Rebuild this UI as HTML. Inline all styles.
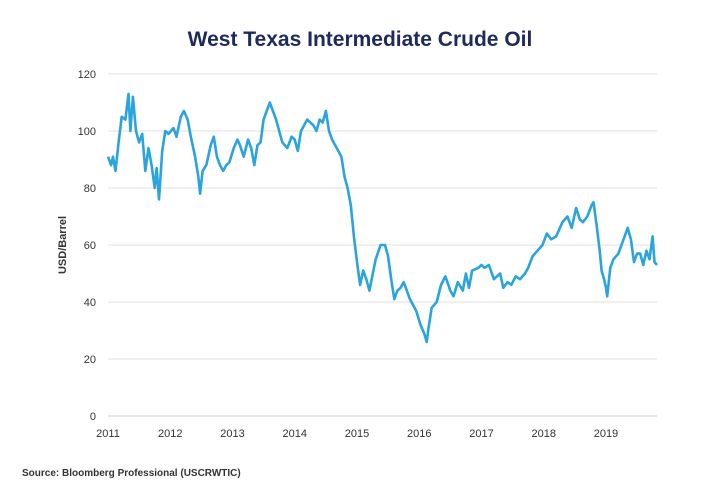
<!DOCTYPE html>
<html><head><meta charset="utf-8"><style>
body{margin:0;background:#fff;font-family:"Liberation Sans",sans-serif;}
svg{display:block}
</style></head><body>
<svg id="chart" width="720" height="500">
<text x="360" y="46" text-anchor="middle" font-size="21" font-weight="bold" fill="#1d2a5b">West Texas Intermediate Crude Oil</text>
<text transform="translate(66,245) rotate(-90)" text-anchor="middle" font-size="11" font-weight="bold" fill="#333">USD/Barrel</text>
<text x="22" y="476" font-size="10" font-weight="bold" fill="#333">Source: Bloomberg Professional (USCRWTIC)</text>
<g id="grid"></g><g id="xt"></g><g id="series"></g>
</svg>
<script>
const yTicks=[0,20,40,60,80,100,120];
const xYears=[2011,2012,2013,2014,2015,2016,2017,2018,2019];
const dates=[2011.0,2011.05,2011.08,2011.12,2011.17,2011.22,2011.28,2011.33,2011.36,2011.4,2011.45,2011.5,2011.55,2011.6,2011.65,2011.7,2011.75,2011.78,2011.82,2011.87,2011.92,2011.97,2012.05,2012.1,2012.17,2012.22,2012.28,2012.33,2012.4,2012.45,2012.48,2012.52,2012.58,2012.65,2012.7,2012.75,2012.8,2012.85,2012.9,2012.95,2013.02,2013.08,2013.12,2013.18,2013.25,2013.3,2013.35,2013.4,2013.45,2013.5,2013.55,2013.6,2013.65,2013.7,2013.8,2013.88,2013.95,2014.0,2014.05,2014.1,2014.2,2014.3,2014.35,2014.4,2014.45,2014.5,2014.55,2014.6,2014.7,2014.75,2014.8,2014.85,2014.9,2014.95,2015.0,2015.05,2015.1,2015.15,2015.2,2015.3,2015.38,2015.45,2015.5,2015.55,2015.6,2015.65,2015.7,2015.75,2015.8,2015.85,2015.9,2015.95,2016.02,2016.08,2016.12,2016.15,2016.2,2016.28,2016.35,2016.42,2016.5,2016.55,2016.62,2016.7,2016.75,2016.8,2016.85,2016.95,2017.0,2017.05,2017.12,2017.2,2017.3,2017.35,2017.42,2017.48,2017.55,2017.62,2017.7,2017.75,2017.82,2017.9,2017.98,2018.05,2018.12,2018.2,2018.3,2018.38,2018.45,2018.52,2018.58,2018.63,2018.7,2018.77,2018.8,2018.85,2018.9,2018.93,2018.97,2019.0,2019.02,2019.07,2019.12,2019.2,2019.3,2019.35,2019.4,2019.45,2019.5,2019.55,2019.6,2019.65,2019.7,2019.75,2019.78,2019.82];
const prices=[91,88,91,86,96,105,104,113,100,112,100,96,99,86,94,88,80,87,76,93,100,99,101,98,105,107,104,98,91,84,78,86,88,95,98,91,88,86,88,89,94,97,95,91,97,94,88,95,96,104,107,110,107,104,96,94,98,97,93,100,104,102,100,104,103,107,100,97,93,91,84,80,74,63,54,46,51,48,44,55,60,60,56,48,41,44,45,47,44,41,39,37,32,29,26,31,38,40,46,49,44,42,47,44,50,45,51,52,53,52,53,48,50,45,47,46,49,48,50,52,56,58,60,64,62,63,68,70,66,73,69,68,70,74,75,67,58,51,48,45,42,52,55,57,63,66,62,54,57,57,53,58,55,63,54,53];
const X0=108,X1=657,Y0=416,Y1=74;
const xs=t=>X0+(t-2011)*(X1-X0)/(2019.82-2011);
const ys=v=>Y0-(v/120)*(Y0-Y1);
const NS="http://www.w3.org/2000/svg";
const grid=document.getElementById('grid'),xt=document.getElementById('xt'),ser=document.getElementById('series');
function mk(tag,attrs,parent,txt){const e=document.createElementNS(NS,tag);for(const k in attrs)e.setAttribute(k,attrs[k]);if(txt!==undefined)e.textContent=txt;parent.appendChild(e);return e;}
yTicks.forEach(v=>{
 const l=mk('line',{x1:X0,x2:X1,y1:ys(v),y2:ys(v),stroke:v===0?'#cfcfcf':'#e2e2e2','stroke-width':1},grid);
 
 
 const t=mk('text',{x:96,y:ys(v)+4,'text-anchor':'end','font-size':11,fill:'#333'},grid,String(v));
 
 
});
xYears.forEach(yr=>{
 const t=mk('text',{x:xs(yr),y:437,'text-anchor':'middle','font-size':11,fill:'#333'},xt,String(yr));
 
 
});
const d=dates.map((t,i)=>(i?'L':'M')+xs(t).toFixed(1)+','+ys(prices[i]).toFixed(1)).join('');
const p=mk('path',{d:d,fill:'none',stroke:'#2aa4dd','stroke-width':2.6,'stroke-linejoin':'round'},ser);


</script>
</body></html>
